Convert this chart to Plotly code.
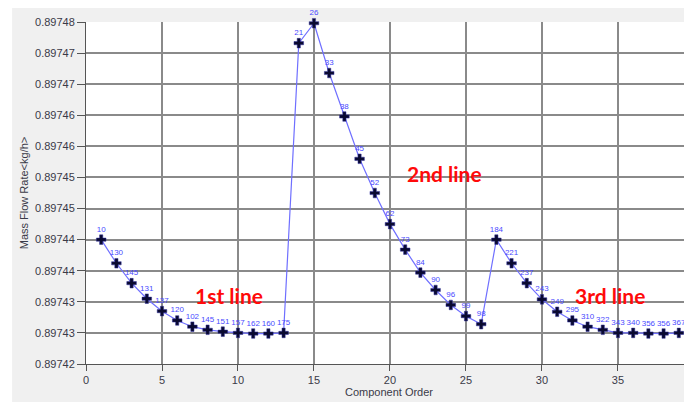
import plotly.graph_objects as go

# Data
component_order = list(range(1, 40))
mass_flow = [
    0.8974400, 0.8974362, 0.8974330, 0.8974305, 0.8974285, 0.8974270, 0.8974260,
    0.8974255, 0.8974252, 0.8974250, 0.8974249, 0.8974249, 0.8974250,
    0.8974716, 0.8974748, 0.8974668, 0.8974598, 0.8974530, 0.8974475, 0.8974425,
    0.8974384, 0.8974347, 0.8974319, 0.8974295, 0.8974277, 0.8974264,
    0.8974400, 0.8974362, 0.8974330, 0.8974304, 0.8974284, 0.8974270, 0.8974260,
    0.8974255, 0.8974250, 0.8974250, 0.8974249, 0.8974249, 0.8974250,
]
point_labels = [
    "10", "130", "145", "131", "137", "120", "102", "145", "151", "157", "162", "160", "175",
    "21", "26", "33", "38", "45", "52", "62", "73", "84", "90", "96", "99", "98",
    "184", "221", "237", "243", "249", "295", "310", "322", "343", "340", "356", "356", "367",
]
y_tickvals = [0.89742 + k * 0.000005 for k in range(12)]
y_ticktext = ["0.89742", "0.89743", "0.89743", "0.89744", "0.89744", "0.89745",
              "0.89745", "0.89746", "0.89746", "0.89747", "0.89747", "0.89748"]
x_tickvals = [0, 5, 10, 15, 20, 25, 30, 35, 40]
notes = ["1st line", "2nd line", "3rd line"]
note_x = [9.4, 23.6, 34.5]
note_y = [0.8974310, 0.8974507, 0.8974310]

fig = go.Figure()
fig.add_trace(go.Scatter(
    x=component_order, y=mass_flow, mode="lines+markers+text",
    line=dict(color="#6f6fff", width=1.2),
    marker=dict(symbol="cross", size=8, color="#0a0a30",
                line=dict(color="#3030a0", width=0.5)),
    text=point_labels, textposition="top center",
    textfont=dict(family="Liberation Sans", size=8, color="#4a4aff"),
    cliponaxis=False, showlegend=False,
))

for t, xx, yy in zip(notes, note_x, note_y):
    fig.add_annotation(x=xx, y=yy, text="<b>%s</b>" % t, showarrow=False,
                       font=dict(family="Lato", size=21, color="#ff0a0a"))

# slightly wider white strip on the left of the outer frame
fig.add_shape(type="rect", xref="paper", yref="paper", x0=-0.2, x1=-0.122,
              y0=-0.2, y1=1.2, fillcolor="white", line=dict(width=0), layer="below")

axis_font = dict(family="Liberation Sans", size=11, color="#3a3a48")
fig.update_xaxes(
    range=[0, 39.87], tickvals=x_tickvals, showgrid=True, gridcolor="#8a8a8a",
    gridwidth=1.5, zeroline=False, showline=True, linecolor="#555555", linewidth=1,
    ticks="outside", ticklen=6, tickcolor="#555555", tickfont=axis_font,
    title=dict(text="Component Order", font=axis_font, standoff=2),
)
fig.update_yaxes(
    range=[0.89742, 0.897475], tickvals=y_tickvals, ticktext=y_ticktext,
    showgrid=True, gridcolor="#8a8a8a", gridwidth=1.5, zeroline=False,
    showline=True, linecolor="#555555", linewidth=1,
    ticks="outside", ticklen=8, tickcolor="#555555", tickfont=axis_font,
    title=dict(text="Mass Flow Rate&lt;kg/h&gt;",
               font=dict(family="Liberation Sans", size=11, color="#3a3a48"), standoff=4),
)
fig.update_layout(
    width=684, height=394,
    margin=dict(l=78, r=0, t=14, b=38),
    paper_bgcolor="#f0f0f0", plot_bgcolor="white",
)
fig.write_html("out.html")
